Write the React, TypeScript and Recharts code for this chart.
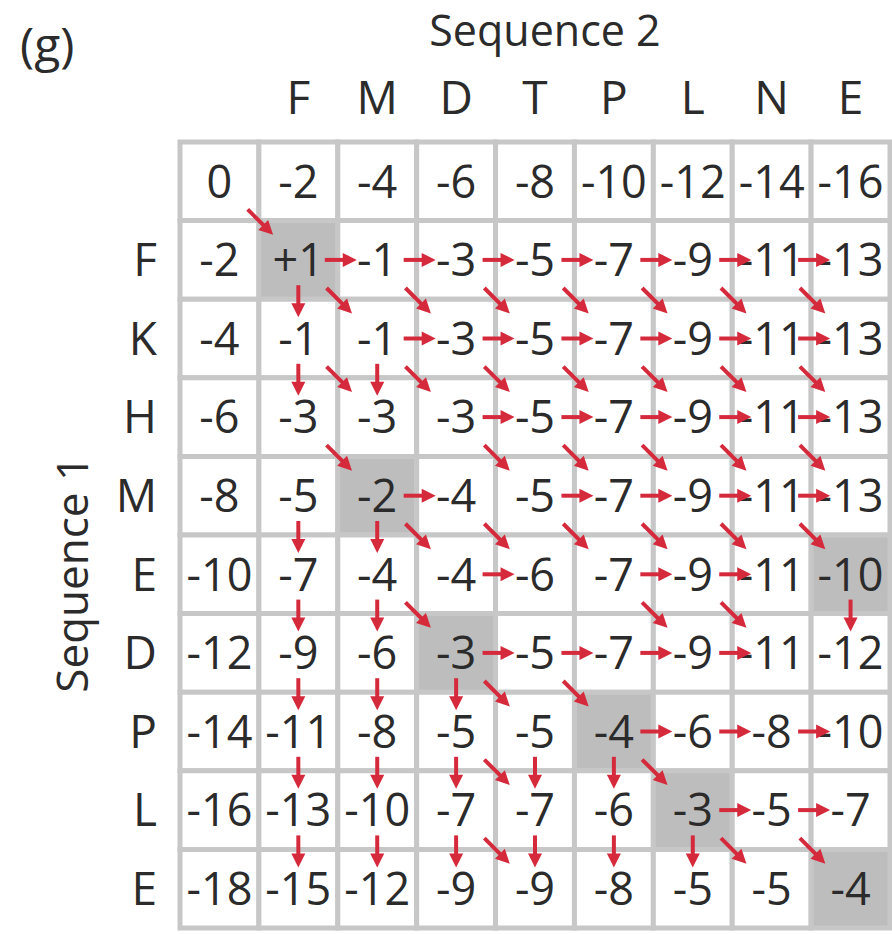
import React from 'react';
import { ScatterChart, XAxis, YAxis, Scatter, ReferenceArea, Label } from 'recharts';

// sequences on the two axes
const SEQ_2 = ['F', 'M', 'D', 'T', 'P', 'L', 'N', 'E'];
const SEQ_1 = ['F', 'K', 'H', 'M', 'E', 'D', 'P', 'L', 'E'];

// score matrix, row 0 / col 0 are the gap penalties
const SCORES: number[][] = [
  [0, -2, -4, -6, -8, -10, -12, -14, -16],
  [-2, 1, -1, -3, -5, -7, -9, -11, -13],
  [-4, -1, -1, -3, -5, -7, -9, -11, -13],
  [-6, -3, -3, -3, -5, -7, -9, -11, -13],
  [-8, -5, -2, -4, -5, -7, -9, -11, -13],
  [-10, -7, -4, -4, -6, -7, -9, -11, -10],
  [-12, -9, -6, -3, -5, -7, -9, -11, -12],
  [-14, -11, -8, -5, -5, -4, -6, -8, -10],
  [-16, -13, -10, -7, -7, -6, -3, -5, -7],
  [-18, -15, -12, -9, -9, -8, -5, -5, -4],
];

// traceback cells shaded grey [row, col]
const PATH_CELLS: [number, number][] = [
  [1, 1], [4, 2], [5, 8], [6, 3], [7, 5], [8, 6], [9, 8],
];

// arrows, given as the cell they point into [row, col]
const RIGHT_ARROWS: [number, number][] = [
  [1, 2], [1, 3], [1, 4], [1, 5], [1, 6], [1, 7], [1, 8],
  [2, 3], [2, 4], [2, 5], [2, 6], [2, 7], [2, 8],
  [3, 4], [3, 5], [3, 6], [3, 7], [3, 8],
  [4, 3], [4, 5], [4, 6], [4, 7], [4, 8],
  [5, 4], [5, 6], [5, 7],
  [6, 4], [6, 5], [6, 6], [6, 7],
  [7, 6], [7, 7], [7, 8],
  [8, 7], [8, 8],
];
const DOWN_ARROWS: [number, number][] = [
  [2, 1],
  [3, 1], [3, 2],
  [5, 1], [5, 2],
  [6, 1], [6, 2], [6, 8],
  [7, 1], [7, 2], [7, 3],
  [8, 1], [8, 2], [8, 3], [8, 4], [8, 5],
  [9, 1], [9, 2], [9, 3], [9, 4], [9, 5], [9, 6],
];
const DIAG_ARROWS: [number, number][] = [
  [1, 1],
  [2, 2], [2, 3], [2, 4], [2, 5], [2, 6], [2, 7], [2, 8],
  [3, 2], [3, 3], [3, 4], [3, 5], [3, 6], [3, 7], [3, 8],
  [4, 2], [4, 4], [4, 5], [4, 6], [4, 7], [4, 8],
  [5, 3], [5, 4], [5, 5], [5, 6], [5, 7], [5, 8],
  [6, 3], [6, 6], [6, 7],
  [7, 4], [7, 5],
  [8, 4], [8, 6],
  [9, 4], [9, 7], [9, 8],
];

const FONT = "'Open Sans', 'DejaVu Sans', sans-serif";
const INK = '#2b2b2b';
const ARROW = '#d42a3c';
const LINE = '#c7c7c7';
const PATH_FILL = '#bdbdbd';

const COL_TICKS = SEQ_2.map((_, i) => i + 1.5);
const ROW_TICKS = SEQ_1.map((_, i) => i + 1.5);

const isPath = (r: number, c: number) => PATH_CELLS.some(([pr, pc]) => pr === r && pc === c);

const scorePoints = SCORES.flatMap((row, r) =>
  row.map((v, c) => ({ x: c + 0.5, y: r + 0.5, label: v > 0 ? `+${v}` : `${v}` })),
);

const arrowPoints = [
  ...RIGHT_ARROWS.map(([r, c]) => ({ x: c, y: r + 0.5, dir: 'right' })),
  ...DOWN_ARROWS.map(([r, c]) => ({ x: c + 0.5, y: r, dir: 'down' })),
  ...DIAG_ARROWS.map(([r, c]) => ({ x: c, y: r, dir: 'diag' })),
];

function ScoreShape(props: any) {
  const { cx, cy, payload } = props;
  return (
    <text x={cx} y={cy} dy="0.36em" textAnchor="middle" fontSize={45} fontFamily={FONT} fill={INK}>
      {payload.label}
    </text>
  );
}

function ArrowShape(props: any) {
  const { cx, cy, payload } = props;
  const angle = payload.dir === 'right' ? 0 : payload.dir === 'down' ? 90 : 45;
  const half = payload.dir === 'diag' ? 18 : 16;
  const dx = payload.dir === 'right' ? 3 : payload.dir === 'diag' ? 1.5 : 0;
  const dy = payload.dir === 'down' ? 2 : payload.dir === 'diag' ? 1.5 : 0;
  return (
    <g transform={`translate(${cx + dx},${cy + dy}) rotate(${angle})`}>
      <line x1={-half} y1={0} x2={half - 10} y2={0} stroke={ARROW} strokeWidth={4} />
      <polygon points={`${half},0 ${half - 14},-7 ${half - 14},7`} fill={ARROW} />
    </g>
  );
}

function TopLabel(props: any) {
  const vb = props.viewBox || { x: 180, y: 0, width: 710, height: 142 };
  return (
    <g>
      <text x={vb.x + vb.width / 2 + 10} y={vb.y + 46} textAnchor="middle" fontSize={43} fontFamily={FONT} fill={INK}>
        Sequence 2
      </text>
      <text x={vb.x - 160} y={vb.y + 62} fontSize={48} fontFamily={FONT} fill={INK}>
        (g)
      </text>
    </g>
  );
}

function LeftLabel(props: any) {
  const vb = props.viewBox || { x: 0, y: 142, width: 180, height: 786 };
  const x = vb.x + 88;
  const y = vb.y + vb.height * 0.55;
  return (
    <text x={x} y={y} transform={`rotate(-90, ${x}, ${y})`} textAnchor="middle" fontSize={44} fontFamily={FONT} fill={INK}>
      Sequence 1
    </text>
  );
}

export default function App() {
  return (
    <div style={{ position: 'absolute', left: 0, top: 0, background: '#fff' }}>
      <ScatterChart width={892} height={934} margin={{ top: 0, right: 2, bottom: 6, left: 0 }}>
        <XAxis
          type="number"
          dataKey="x"
          orientation="top"
          domain={[0, 9]}
          ticks={COL_TICKS}
          interval={0}
          tickFormatter={(v: number) => SEQ_2[Math.round(v - 1.5)]}
          axisLine={false}
          tickLine={false}
          tickSize={0}
          tickMargin={28}
          height={142}
          allowDataOverflow
          tick={{ fontSize: 46, fill: INK, fontFamily: FONT }}
        >
          <Label content={TopLabel} />
        </XAxis>
        <YAxis
          type="number"
          dataKey="y"
          domain={[0, 10]}
          reversed
          ticks={ROW_TICKS}
          interval={0}
          tickFormatter={(v: number) => SEQ_1[Math.round(v - 1.5)]}
          axisLine={false}
          tickLine={false}
          tickSize={0}
          tickMargin={23}
          width={180}
          allowDataOverflow
          tick={{ fontSize: 46, fill: INK, fontFamily: FONT }}
        >
          <Label content={LeftLabel} />
        </YAxis>
        {SCORES.flatMap((row, r) =>
          row.map((_, c) => (
            <ReferenceArea
              key={`cell-${r}-${c}`}
              x1={c}
              x2={c + 1}
              y1={r}
              y2={r + 1}
              fill={isPath(r, c) ? PATH_FILL : '#ffffff'}
              fillOpacity={1}
              stroke={LINE}
              strokeWidth={5}
              ifOverflow="visible"
            />
          )),
        )}
        <Scatter data={scorePoints} shape={ScoreShape} isAnimationActive={false} />
        <Scatter data={arrowPoints} shape={ArrowShape} isAnimationActive={false} />
      </ScatterChart>
    </div>
  );
}
